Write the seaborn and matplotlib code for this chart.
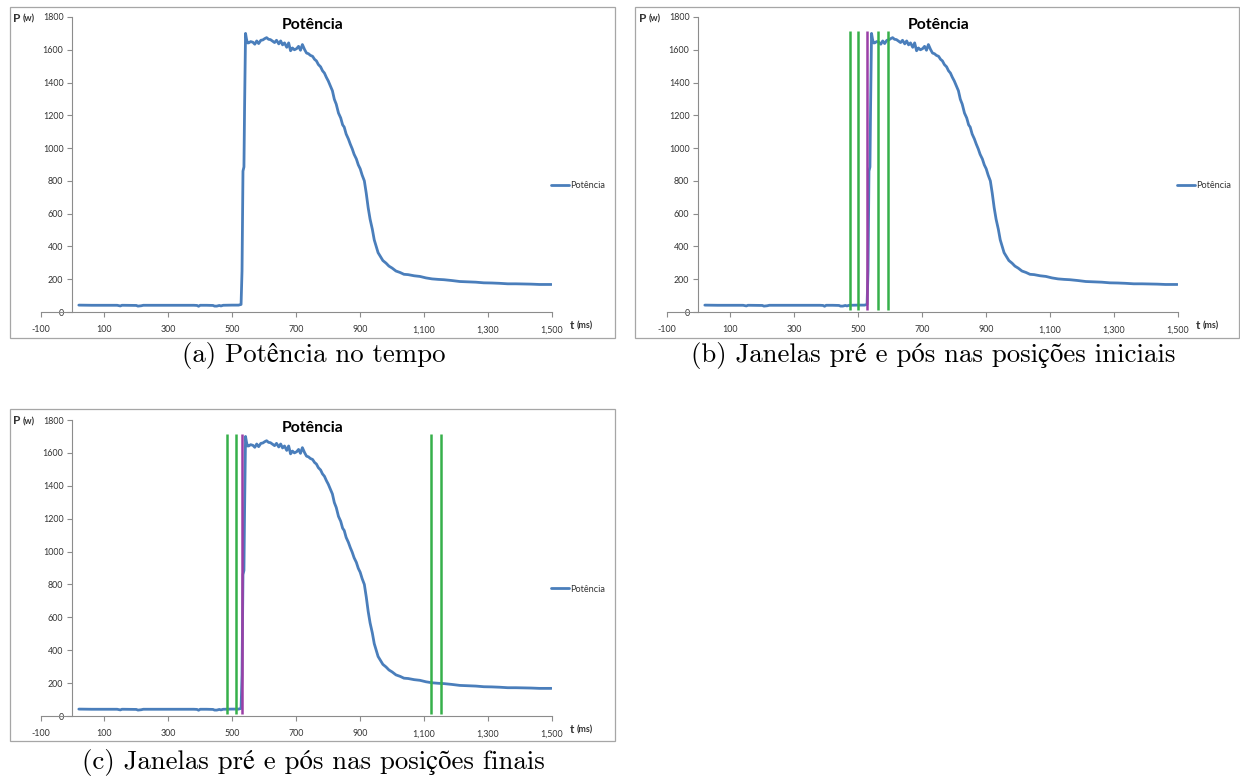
import matplotlib
matplotlib.use("Agg")
import matplotlib.pyplot as plt
import seaborn as sns
from matplotlib.patches import Rectangle
from matplotlib.lines import Line2D

# Power measurement over time
t_ms = [20, 60, 100, 140, 150, 155, 160, 200, 205, 215, 222, 260, 300, 340, 380, 390,
        395, 400, 420, 440, 445, 452, 460, 465, 472, 500, 520, 528,
        531, 534, 537, 539, 542, 545, 548,
        552, 558, 565, 571, 577, 583, 590, 596, 602, 608, 614, 620, 627, 633, 639, 646,
        652, 658, 664, 671, 677, 683, 689, 695, 702, 708, 714, 720, 727, 733, 739, 745,
        752, 758, 764, 770, 777, 783, 789, 795, 801, 808, 814, 820, 826, 833, 840, 846,
        851, 857, 864, 870, 876, 882, 889, 895, 901, 907, 914, 920, 926, 932, 939, 945,
        951, 957, 964, 972, 982, 991, 1001, 1013, 1026, 1038, 1051, 1070, 1088, 1107,
        1126, 1145, 1163, 1188, 1213, 1238, 1263, 1288, 1313, 1338, 1363, 1388, 1412,
        1437, 1462, 1480, 1500]
potencia_w = [42, 41, 41, 41, 37, 41, 41, 40, 36, 38, 41, 41, 41, 41, 41, 40,
              35, 41, 41, 40, 36, 36, 40, 37, 41, 42, 42, 46,
              250, 860, 885, 1250, 1700, 1665, 1642,
              1642, 1650, 1646, 1634, 1654, 1638, 1658, 1660, 1668, 1674, 1664, 1662, 1652,
              1644, 1658, 1636, 1654, 1630, 1642, 1615, 1642, 1594, 1611, 1600, 1607, 1621,
              1597, 1632, 1601, 1580, 1576, 1566, 1560, 1542, 1532, 1510, 1496, 1472, 1458,
              1432, 1410, 1378, 1350, 1298, 1268, 1214, 1184, 1142, 1128, 1086, 1056, 1024,
              996, 962, 934, 898, 874, 836, 800, 724, 636, 566, 505, 440, 402, 362, 340, 314,
              298, 280, 268, 250, 241, 230, 228, 221, 217, 208, 202, 199, 197, 192, 186,
              184, 182, 178, 177, 175, 172, 172, 171, 170, 168, 168, 168]

x_ticks = [-100, 100, 300, 500, 700, 900, 1100, 1300, 1500]
x_tick_labels = ["-100", "100", "300", "500", "700", "900", "1,100", "1,300", "1,500"]
y_ticks = [0, 200, 400, 600, 800, 1000, 1200, 1400, 1600, 1800]

# window edges (green) and onset marker (purple)
janelas_iniciais = [473, 500, 561, 594]
marcador_inicial = 529
janelas_finais = [483, 511, 1124, 1153]
marcador_final = 530
janela_base, janela_topo = 12, 1712

legenda = "Potência"
titulo = "Potência"
legendas_fig = ["(a) Potência no tempo",
                "(b) Janelas pré e pós nas posições iniciais",
                "(c) Janelas pré e pós nas posições finais"]

sns.set_theme(style="white")
plt.rcParams["font.family"] = ["Lato", "DejaVu Sans"]

W, H = 1240, 780
fig = plt.figure(figsize=(W / 100, H / 100), dpi=100)
fig.patch.set_facecolor("white")

BLUE = "#4a7ebb"
GREEN = "#36b04a"
PURPLE = "#9b3fa6"
AXIS = "#8c8c8c"
TXT = "#333333"
SERIF = ["cmr10", "STIXGeneral", "DejaVu Serif"]


def fx(px):
    return px / W


def fy(py):
    return 1 - py / H


def panel(box, plot, janelas=None, marcador=None, caption=None, cap_xy=None):
    bx0, by0, bx1, by1 = box
    fig.patches.append(Rectangle((fx(bx0), fy(by1)), fx(bx1 - bx0), (by1 - by0) / H,
                                 transform=fig.transFigure, fill=False,
                                 edgecolor="#a6a6a6", linewidth=0.9))
    xl, xr, ytop, ybot = plot
    ax = fig.add_axes([fx(xl), fy(ybot), fx(xr - xl), (ybot - ytop) / H])
    ax.patch.set_alpha(0)
    sns.lineplot(x=t_ms, y=potencia_w, ax=ax, color=BLUE, linewidth=2.0,
                 label=legenda, legend=False, zorder=2)
    if janelas is not None:
        ax.vlines(janelas, janela_base, janela_topo, color=GREEN, linewidth=1.8, zorder=3)
        ax.vlines([marcador], janela_base, janela_topo, color=PURPLE, linewidth=1.8, zorder=3)
    ax.set_xlim(-100, 1500)
    ax.set_ylim(0, 1800)
    ax.set_xticks(x_ticks, x_tick_labels)
    ax.set_yticks(y_ticks)
    for s in ["top", "right"]:
        ax.spines[s].set_visible(False)
    ax.spines["left"].set_position(("data", 0))
    for s in ["left", "bottom"]:
        ax.spines[s].set_color(AXIS)
        ax.spines[s].set_linewidth(0.8)
    ax.tick_params(axis="both", bottom=True, left=True, direction="out", length=3.5,
                   width=0.8, color=AXIS, labelsize=6.4, labelcolor=TXT, pad=3)
    ax.tick_params(axis="x", pad=6)
    ax.set_xlabel("")
    ax.set_ylabel("")

    # chart title
    fig.text(fx((xl + xr) / 2 + 17), fy(ytop + 8), titulo, ha="center", va="center",
             fontsize=11.4, fontweight="bold", color="black")
    # axis names
    fig.text(fx(bx0 + 3.5), fy(ytop + 1), "P", ha="left", va="center",
             fontsize=8.6, fontweight="bold", color=TXT)
    fig.text(fx(bx0 + 13.5), fy(ytop + 1.5), "(w)", ha="left", va="center",
             fontsize=6.4, fontweight="bold", color=TXT)
    fig.text(fx(xr + 18.5), fy(ybot + 13.5), "t", ha="left", va="center",
             fontsize=8.4, fontweight="bold", color=TXT)
    fig.text(fx(xr + 25), fy(ybot + 14), "(ms)", ha="left", va="center",
             fontsize=6.4, fontweight="bold", color=TXT)
    # legend
    handle = Line2D([], [], color=BLUE, linewidth=2.0)
    fig.legend([handle], [legenda], loc="center left",
               bbox_to_anchor=(fx(xr - 1), fy(ytop + 169)), bbox_transform=fig.transFigure,
               frameon=False, fontsize=6.6, handlelength=2.0, handletextpad=0.15,
               borderpad=0, borderaxespad=0, labelcolor=TXT)
    # caption below the panel
    fig.text(fx(cap_xy[0]), fy(cap_xy[1]), caption, ha="center", va="center",
             fontsize=19.3, family=SERIF, color="black")
    return ax


panel((9.5, 7, 614.5, 338), (40.5, 551.5, 17, 312),
      caption=legendas_fig[0], cap_xy=(314, 356))
panel((635, 7, 1239, 338), (666.5, 1177.5, 17, 312),
      janelas=janelas_iniciais, marcador=marcador_inicial,
      caption=legendas_fig[1], cap_xy=(933, 356))
panel((9.5, 409, 614.5, 741), (40.5, 551.5, 420, 716),
      janelas=janelas_finais, marcador=marcador_final,
      caption=legendas_fig[2], cap_xy=(313, 762))

fig.savefig("out.png", dpi=100, facecolor="white")
